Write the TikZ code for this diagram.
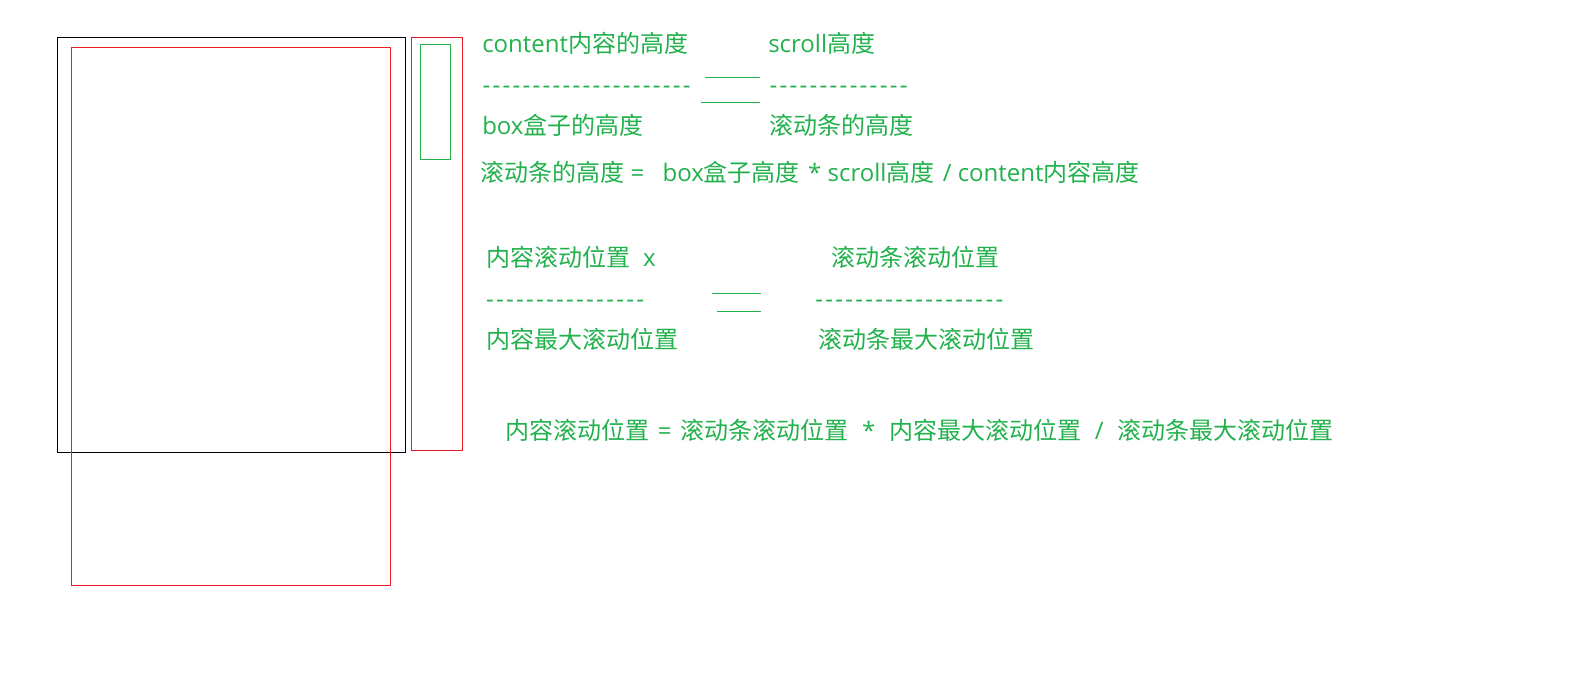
\documentclass[tikz,border=0pt]{standalone}
\usepackage{fontspec}
\newfontfamily\cjk[Ligatures=TeXOff]{Noto Sans CJK SC}
\newfontfamily\lat[Ligatures=TeXOff]{Open Sans}
\usetikzlibrary{positioning}
\definecolor{hintgreen}{RGB}{34,177,76}
\definecolor{hintred}{RGB}{237,28,36}
% a row of hyphens, 10px apart
\newcommand\dashrow[1]{\foreach \k in {1,...,#1}{\makebox[7.5pt]{\lat -}}}
% an operator centred in a gap of given width
\newcommand\opgap[2]{\makebox[#1]{\lat #2}}

\begin{document}
\begin{tikzpicture}[
  x=0.75pt, y=-0.75pt,
  txt/.style = {anchor=west, inner sep=0pt, text=hintgreen, font=\cjk\fontsize{18}{22}\selectfont},
  dashtxt/.style = {txt, anchor=base west},
  eqline/.style = {draw=hintgreen, line width=0.75pt},
  frame/.style = {line width=0.75pt}
  ]
  \useasboundingbox (0,0) rectangle (1586,675);
  % box, content and scroll bar
  \draw[frame, black] (57,37) rectangle (405,452);
  \draw[frame, hintred] (71,47) rectangle (390,585);
  \draw[frame, hintred] (411,37) rectangle (462,450);
  \draw[frame, hintgreen] (420,44) rectangle (450,159);
  % first ratio
  \node[txt] (cH) at (482,43) {{\lat content}内容的高度};
  \node[txt] (sH) at (768,43) {{\lat scroll}高度};
  \node[dashtxt] (d1) at (481.3,93.5) {\dashrow{21}};
  \node[dashtxt] (d2) at (768.3,93.5) {\dashrow{14}};
  \node[txt] (bH) at (482,125) {{\lat box}盒子的高度};
  \node[txt] (bar) at (769,125) {滚动条的高度};
  \draw[eqline] (705,77) -- (760,77);
  \draw[eqline] (701,102) -- (760,102);
  \node[txt] (f1) at (480,172) {滚动条的高度{\lat\ =\ \ \hspace{4.5pt}box}盒子高度{\lat\hspace{1.5pt} * scroll}高度{\lat\hspace{1.5pt} / content}内容高度};
  % second ratio
  \node[txt] (cX) at (486.5,257) {内容滚动位置{\lat\ \ x}};
  \node[txt] (bX) at (831.5,257) {滚动条滚动位置};
  \node[dashtxt] (d3) at (484.8,307.5) {\dashrow{16}};
  \node[dashtxt] (d4) at (814,307.5) {\dashrow{19}};
  \node[txt] (cMax) at (486.5,339) {内容最大滚动位置};
  \node[txt] (bMax) at (818,339) {滚动条最大滚动位置};
  \draw[eqline] (712,293.3) -- (761,293.3);
  \draw[eqline] (717,311.3) -- (761,311.3);
  \node[txt] (f2) at (505,430) {内容滚动位置\opgap{23.25pt}{=}滚动条滚动位置\opgap{30.75pt}{*}内容最大滚动位置\opgap{27pt}{/}滚动条最大滚动位置};
\end{tikzpicture}
\end{document}
